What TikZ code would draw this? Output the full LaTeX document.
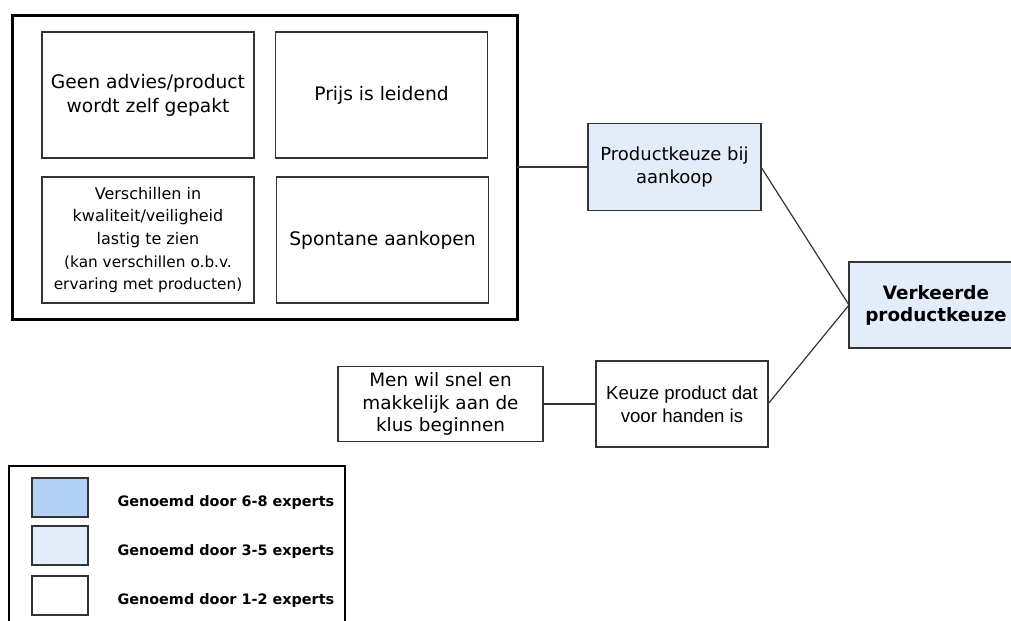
\documentclass[tikz,border=0pt]{standalone}
\usepackage{fontspec}
\setmainfont{DejaVu Sans}
\newfontfamily\arialfont{Liberation Sans}

\definecolor{lichtblauw}{RGB}{227,237,250}
\definecolor{middenblauw}{RGB}{179,208,245}
\definecolor{lijngrijs}{RGB}{51,51,51}

\tikzset{every picture/.style={line width=0.75pt}}

\begin{document}
\begin{tikzpicture}[x=0.75pt,y=0.75pt,yscale=-1,xscale=1,
  kader/.style={draw=lijngrijs,line width=1.1pt,rectangle,inner sep=0pt,outer sep=0pt,align=center},
  factorbox/.style={kader,minimum width=159pt,minimum height=94.5pt},
  oorzaak/.style={kader,minimum width=129.75pt,minimum height=65.25pt},
  verbinding/.style={draw=lijngrijs,line width=0.9pt},
  staal/.style={draw=lijngrijs,line width=1.1pt,rectangle,inner sep=0pt,minimum width=42pt,minimum height=29.25pt},
  legendatekst/.style={anchor=west,inner sep=0pt,font=\fontsize{10.8}{13}\selectfont\bfseries}]
\useasboundingbox (0,0) rectangle (1011,621);
\clip (0,0) rectangle (1011,621);

%Shape: Rectangle [id:kader factoren]
\node [draw=black,line width=2.25pt,rectangle,inner sep=0pt,outer sep=0pt,minimum width=378.75pt,minimum height=228pt] (factoren) at (264.5,167) {};

% Text Node
\node [factorbox,font=\fontsize{14}{18}\selectfont] (geen) at (148,95) {Geen advies/product\\wordt zelf gepakt};
% Text Node
\node [factorbox,font=\fontsize{14}{18}\selectfont] (prijs) at (381.5,95) {Prijs is leidend};
% Text Node
\node [factorbox,font=\fontsize{12}{17}\selectfont] (verschil) at (148,240) {Verschillen in\\kwaliteit/veiligheid\\lastig te zien\\{\fontsize{11.5}{17}\selectfont (kan verschillen o.b.v.}\\{\fontsize{11.5}{17}\selectfont ervaring met producten)}};
% Text Node
\node [factorbox,font=\fontsize{14}{18}\selectfont] (spontaan) at (382.5,240) {Spontane aankopen};

% Text Node
\node [oorzaak,fill=lichtblauw,font=\fontsize{13.5}{17.5}\selectfont] (aankoop) at (674.5,167) {Productkeuze bij\\aankoop};
% Text Node
\node [oorzaak,fill=lichtblauw,minimum width=130.5pt,minimum height=64.5pt,font=\fontsize{13.8}{16.5}\selectfont\bfseries] (verkeerd) at (936,305) {Verkeerde\\productkeuze};
% Text Node
\node [oorzaak,minimum width=129pt,minimum height=64.5pt,font=\arialfont\fontsize{14}{17.5}\selectfont] (keuze) at (682,404) {Keuze product dat\\voor handen is};
% Text Node
\node [kader,minimum width=153.75pt,minimum height=56.25pt,font=\fontsize{13.8}{17}\selectfont] (snel) at (440.5,404) {Men wil snel en\\makkelijk aan de\\klus beginnen};

%Straight Lines
\draw [verbinding] (factoren.east) -- (aankoop.west);
\draw [verbinding] (aankoop.east) -- (verkeerd.west);
\draw [verbinding] (keuze.east) -- (verkeerd.west);
\draw [verbinding] (snel.east) -- (keuze.west);

%Shape: Rectangle [id:legenda]
\draw [draw=black,line width=1.5pt] (9,640) -- (9,466) -- (345,466) -- (345,640);
\node [staal,fill=middenblauw] (staal1) at (60,497.5) {};
\node [staal,fill=lichtblauw] (staal2) at (60,545.5) {};
\node [staal,fill=white] (staal3) at (60,595.5) {};
% Text Node
\node [legendatekst] (tekst1) at (117,503) {Genoemd door 6-8 experts};
% Text Node
\node [legendatekst] (tekst2) at (117,552) {Genoemd door 3-5 experts};
% Text Node
\node [legendatekst] (tekst3) at (117,601) {Genoemd door 1-2 experts};

\end{tikzpicture}
\end{document}
